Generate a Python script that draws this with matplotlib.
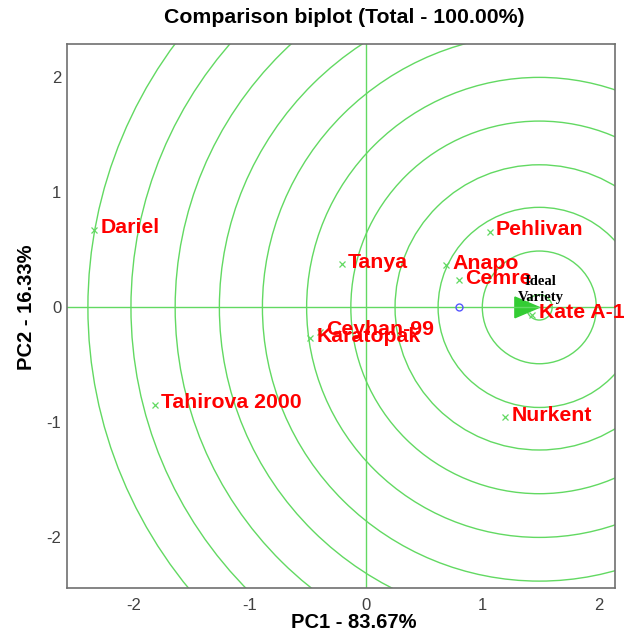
import numpy as np
import matplotlib
matplotlib.use("Agg")
from matplotlib import pyplot as plt
from matplotlib.patches import Circle, Polygon

# genotype scores
names = ["Dariel", "Tanya", "Anapo", "Cemre", "Pehlivan", "Kate A-1",
         "Karatopak", "Ceyhan-99", "Tahirova 2000", "Nurkent"]
pc1 = [-2.335, -0.21, 0.69, 0.80, 1.065, 1.43, -0.48, -0.395, -1.815, 1.195]
pc2 = [0.675, 0.375, 0.365, 0.235, 0.655, -0.065, -0.27, -0.21, -0.845, -0.955]

ideal = (1.49, 0.0)
mean_point = (0.80, 0.0)
ring_radii = [0.11, 0.49, 0.87, 1.24, 1.62, 2.0, 2.38, 2.75, 3.13, 3.51, 3.88]

ticks = [-2, -1, 0, 1, 2]

GREEN = "#62d962"

plt.rcParams["font.family"] = ["Liberation Sans", "DejaVu Sans"]
plt.rcParams["axes.unicode_minus"] = False

fig = plt.figure(figsize=(6.3, 6.39), dpi=100)
ax = fig.add_axes([0.1063, 0.0798, 0.8698, 0.8513])

ax.set_xlim(-2.57, 2.14)
ax.set_ylim(-2.44, 2.29)

# concentric rings round the ideal variety
for r in ring_radii:
    ax.add_patch(Circle(ideal, r, fill=False, edgecolor=GREEN, linewidth=1.0))

ax.axhline(0, color=GREEN, linewidth=1.0)
ax.axvline(0, color=GREEN, linewidth=1.0)

ax.plot(pc1, pc2, linestyle="none", marker="x", color=GREEN,
        markersize=5, markeredgewidth=0.9)

for name, x, y in zip(names, pc1, pc2):
    ax.annotate(name, (x, y), xytext=(4.5, 1.5), textcoords="offset points",
                ha="left", va="center", color="red", fontsize=15.3,
                fontweight="bold", annotation_clip=False)

ax.plot(*mean_point, marker="o", markersize=5, markerfacecolor="none",
        markeredgecolor="#5555ff", markeredgewidth=1)

# arrow head pointing at the ideal variety
tw, th = 0.21, 0.09
ax.add_patch(Polygon([ideal, (ideal[0] - tw, ideal[1] + th),
                      (ideal[0] - tw, ideal[1] - th)],
                     closed=True, facecolor="#33cc33", edgecolor="#33cc33"))

ax.annotate("Ideal\nVariety", ideal, xytext=(1, 13), textcoords="offset points",
            ha="center", va="center", fontsize=10.5, fontweight="bold",
            family=["Liberation Serif"], color="black", linespacing=1.3)

ax.set_xticks(ticks)
ax.set_yticks(ticks)
ax.tick_params(length=0, labelsize=12, labelcolor="#404040")
ax.tick_params(axis="x", pad=7)
ax.tick_params(axis="y", pad=4)

for sp in ax.spines.values():
    sp.set_color("#707070")
    sp.set_linewidth(1.2)

ax.set_xlabel("PC1 - 83.67%", fontsize=14.5, fontweight="bold")
ax.xaxis.label.set_va("center")
ax.xaxis.set_label_coords(0.523, -0.064)
ax.set_ylabel("PC2 - 16.33%", fontsize=14.5, fontweight="bold")
ax.yaxis.label.set_va("center")
ax.yaxis.set_label_coords(-0.073, 0.516)

fig.text(0.546, 0.972, "Comparison biplot (Total - 100.00%)", ha="center",
         va="center", fontsize=15.3, fontweight="bold")

fig.savefig("out.png", dpi=100)
